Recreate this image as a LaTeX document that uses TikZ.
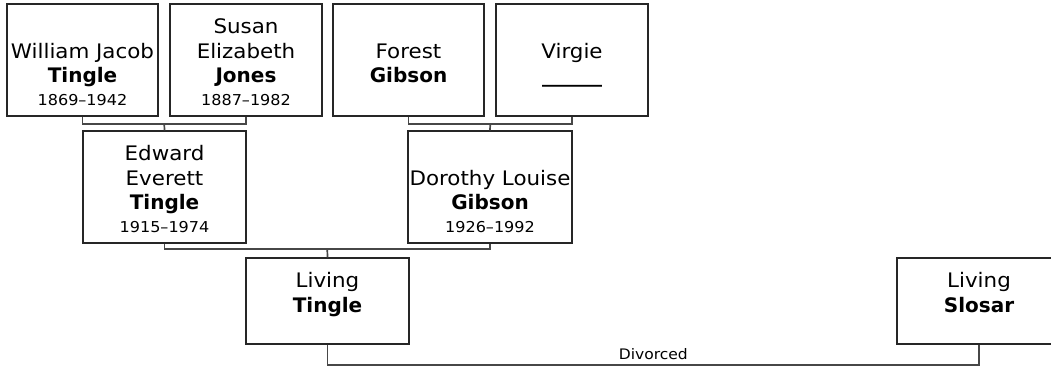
\documentclass[tikz,border=0pt]{standalone}
\usepackage{fontspec}
\setmainfont{DejaVu Sans}[FakeStretch=1.07, BoldFeatures={FakeStretch=1.0}]
\usetikzlibrary{calc}
\tikzset{
  person/.style={draw=black!85, line width=1.3pt, fill=white, inner sep=0pt},
  nm/.style={anchor=base, inner sep=0pt, font=\fontsize{20}{24}\selectfont},
  sn/.style={anchor=base, inner sep=0pt, font=\fontsize{20}{24}\selectfont\bfseries},
  dt/.style={anchor=base, inner sep=0pt, font=\fontsize{15}{18}\selectfont},
  link/.style={draw=black!72, line width=1.7pt},
  lbl/.style={anchor=base, inner sep=0pt, font=\fontsize{14.5}{16}\selectfont}
}
\begin{document}
\begin{tikzpicture}[x=1pt, y=-1pt]
\useasboundingbox (0,0) rectangle (1051,368);
\clip (0,0) rectangle (1051,368);
% connectors (under boxes)
\coordinate (c1) at ($(82.5,116)!0.5!(246,116)+(0,7)$);
% boxes
\node[person, minimum width=151pt, minimum height=112pt] (wj) at (82.5,60) {};
\node[person, minimum width=152pt, minimum height=112pt] (se) at (246,60) {};
\node[person, minimum width=151pt, minimum height=112pt] (fg) at (408.5,60) {};
\node[person, minimum width=152pt, minimum height=112pt] (vi) at (572,60) {};
\node[person, minimum width=163pt, minimum height=112pt] (ee) at (164.5,187) {};
\node[person, minimum width=164pt, minimum height=112pt] (dl) at (490,187) {};
\node[person, minimum width=163pt, minimum height=86pt] (lt) at (327.5,301) {};
\node[person, minimum width=164pt, minimum height=86pt] (ls) at (979,301) {};
% texts
\node[nm] (wj1) at (82.5,58) {William Jacob};
\node[sn] (wj2) at (82.5,82) {Tingle};
\node[dt] (wj3) at (82.5,105) {1869–1942};
\node[nm] (se1) at (246,33) {Susan};
\node[nm] (se2) at (246,58) {Elizabeth};
\node[sn] (se3) at (246,82) {Jones};
\node[dt] (se4) at (246,105) {1887–1982};
\node[nm] (fg1) at (408.5,58) {Forest};
\node[sn] (fg2) at (408.5,82) {Gibson};
\node[nm] (vi1) at (572,58) {Virgie};
\node[sn] (vi2) at (572,82) {\_\_\_\_\_\_};
\node[nm] (ee1) at (164.5,160) {Edward};
\node[nm] (ee2) at (164.5,185) {Everett};
\node[sn] (ee3) at (164.5,209) {Tingle};
\node[dt] (ee4) at (164.5,232) {1915–1974};
\node[nm] (dl1) at (490,185) {Dorothy Louise};
\node[sn] (dl2) at (490,209) {Gibson};
\node[dt] (dl3) at (490,232) {1926–1992};
\node[nm] (lt1) at (327.5,287) {Living};
\node[sn] (lt2) at (327.5,312) {Tingle};
\node[nm] (ls1) at (979,287) {Living};
\node[sn] (ls2) at (979,312) {Slosar};
% connectors
\coordinate (c1) at ($(wj.south)!0.5!(se.south)+(0,7)$);
\draw[link] (wj.south) -- ++(0,7) -| (se.south);
\draw[link] (c1) -- (ee.north);
\coordinate (c2) at ($(fg.south)!0.5!(vi.south)+(0,7)$);
\draw[link] (fg.south) -- ++(0,7) -| (vi.south);
\draw[link] (c2) -- (dl.north);
\coordinate (c3) at ($(ee.south)!0.5!(dl.south)+(0,5)$);
\draw[link] (ee.south) -- ++(0,5) -| (dl.south);
\draw[link] (c3) -- (lt.north);
\coordinate (c4) at ($(lt.south)!0.5!(ls.south)+(0,20)$);
\draw[link] (lt.south) -- ++(0,20) -| (ls.south);
\node[lbl] (div) at ($(c4)+(0,-5)$) {Divorced};
\end{tikzpicture}
\end{document}
